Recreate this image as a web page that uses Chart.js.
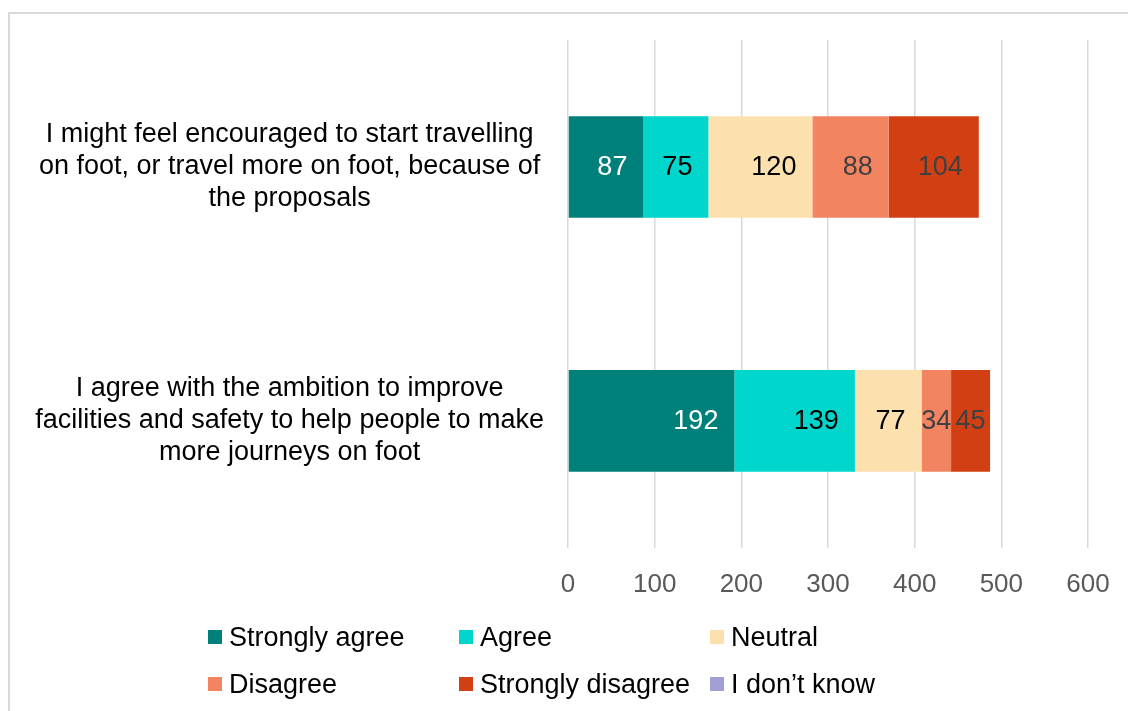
<!DOCTYPE html>
<html>
<head>
<meta charset="utf-8">
<script src="https://cdn.jsdelivr.net/npm/chart.js@4.4.1/dist/chart.umd.min.js"></script>
<style>
  html, body { margin: 0; padding: 0; background: #fff; }
  #wrap { position: relative; width: 1128px; height: 711px; overflow: hidden; }
  #frame { position: absolute; left: 8px; top: 12px; width: 1200px; height: 800px; border: 2px solid #d9d9d9; box-sizing: border-box; }
  canvas { position: absolute; left: 0; top: 0; }
  #legend { position: absolute; left: 0; top: 0; width: 1128px; height: 711px; pointer-events: none;
            font-family: "Liberation Sans", Arial, sans-serif; font-size: 27px; color: #000; }
  .item { position: absolute; height: 30px; line-height: 30px; white-space: nowrap; }
  .box { position: absolute; width: 14px; height: 14px; top: 8px; left: 0; }
  .txt { position: absolute; left: 21px; top: 0; }
</style>
</head>
<body>
<div id="wrap">
  <div id="frame"></div>
  <canvas id="chart" width="1128" height="711"></canvas>
  <div id="legend"></div>
</div>
<script>
const categories = [
  ['I might feel encouraged to start travelling', 'on foot, or travel more on foot, because of', 'the proposals'],
  ['I agree with the ambition to improve', 'facilities and safety to help people to make', 'more journeys on foot']
];
const seriesNames = ['Strongly agree', 'Agree', 'Neutral', 'Disagree', 'Strongly disagree', 'I don\u2019t know'];
const stronglyAgree = [87, 192];
const agree = [75, 139];
const neutral = [120, 77];
const disagree = [88, 34];
const stronglyDisagree = [104, 45];
const dontKnow = [0, 0];
const xTicks = [0, 100, 200, 300, 400, 500, 600];

const colors = ['#00807a', '#00d6cc', '#fce0ae', '#f28462', '#d13f12', '#a09ed2'];
const labelColors = ['#ffffff', '#000000', '#000000', '#404040', '#404040', '#404040'];
const allValues = [stronglyAgree, agree, neutral, disagree, stronglyDisagree, dontKnow];

const FONT = '"Liberation Sans", Arial, sans-serif';

const barLabels = {
  id: 'barLabels',
  afterDatasetsDraw(chart) {
    const ctx = chart.ctx;
    ctx.save();
    ctx.font = '27px ' + FONT;
    ctx.textBaseline = 'middle';
    ctx.textAlign = 'center';
    chart.data.datasets.forEach((ds, i) => {
      const meta = chart.getDatasetMeta(i);
      meta.data.forEach((bar, j) => {
        const v = ds.data[j];
        if (!v) return;
        const text = String(v);
        const w = ctx.measureText(text).width;
        const left = bar.base, right = bar.x;
        const center = (left + right) / 2;
        const x = Math.max(center, right - 16 - w / 2);
        ctx.fillStyle = labelColors[i];
        ctx.fillText(text, x, bar.y + 1);
      });
    });
    ctx.restore();
  }
};

const ctx = document.getElementById('chart').getContext('2d');
const myChart = new Chart(ctx, {
  type: 'bar',
  data: {
    labels: categories,
    datasets: seriesNames.map((name, i) => ({
      label: name,
      data: allValues[i],
      backgroundColor: colors[i],
      borderWidth: 0,
      barPercentage: 0.4,
      categoryPercentage: 1.0
    }))
  },
  options: {
    indexAxis: 'y',
    responsive: false,
    animation: false,
    layout: { padding: { left: 20, right: 40, top: 40, bottom: 90 } },
    plugins: {
      legend: { display: false },
      tooltip: { enabled: false }
    },
    scales: {
      x: {
        stacked: true,
        min: 0,
        max: 600,
        afterBuildTicks(scale) { scale.ticks = xTicks.map(v => ({ value: v })); },
        afterFit(scale) { scale.paddingLeft = 0; scale.paddingRight = 0; },
        grid: { color: '#d9d9d9', lineWidth: 1.5, drawTicks: false },
        border: { display: false },
        ticks: { color: '#595959', font: { family: FONT, size: 26 }, padding: 21 }
      },
      y: {
        stacked: true,
        grid: { display: false, drawTicks: false },
        border: { display: false },
        afterFit(scale) { scale.width = 548; scale.paddingTop = 0; scale.paddingBottom = 0; },
        ticks: { color: '#000000', crossAlign: 'center', padding: 24,
                 font: { family: FONT, size: 27, lineHeight: 1.185 } }
      }
    }
  },
  plugins: [barLabels]
});

// legend laid out in a 3-column grid like the original
const legend = document.getElementById('legend');
const colX = [208, 459, 710];
const rowY = [622, 669];
myChart.data.datasets.forEach((ds, i) => {
  const item = document.createElement('div');
  item.className = 'item';
  item.style.left = colX[i % 3] + 'px';
  item.style.top = rowY[Math.floor(i / 3)] + 'px';
  item.innerHTML = '<span class="box" style="background:' + ds.backgroundColor + '"></span><span class="txt"></span>';
  item.querySelector('.txt').textContent = ds.label;
  legend.appendChild(item);
});
</script>
</body>
</html>
